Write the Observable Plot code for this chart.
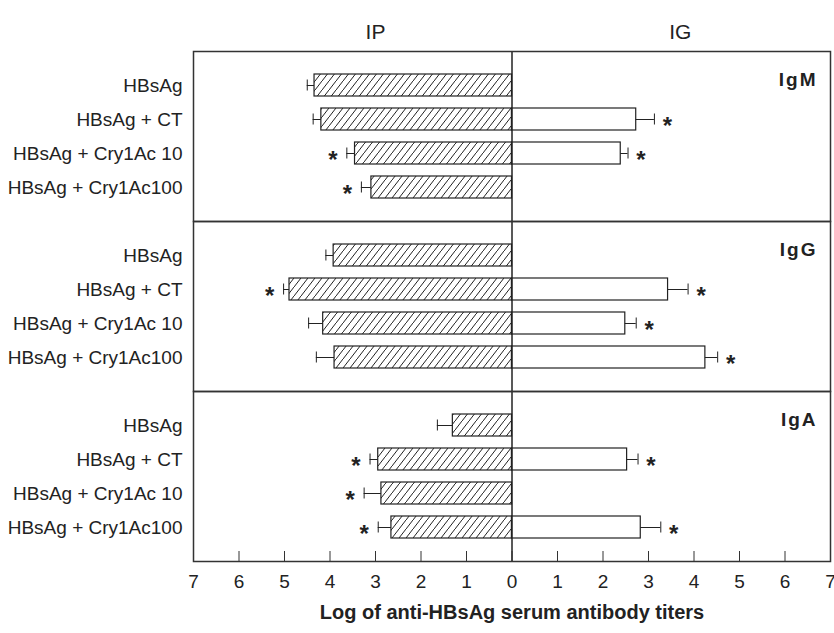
<!DOCTYPE html>
<html><head><meta charset="utf-8">
<script src="https://cdn.jsdelivr.net/npm/d3@7"></script>
<script src="https://cdn.jsdelivr.net/npm/@observablehq/plot@0.6"></script>
<style>body{margin:0;background:#fff}</style>
</head><body><div id="chart"></div>
<script>
const panels = ["IgM", "IgG", "IgA"];
const groups = ["HBsAg", "HBsAg + CT", "HBsAg + Cry1Ac 10", "HBsAg + Cry1Ac100"];
// IP (intraperitoneal) means and SE, per panel
const ipMean = [[4.34, 4.19, 3.45, 3.09], [3.92, 4.89, 4.15, 3.90], [1.30, 2.94, 2.87, 2.65]];
const ipErr  = [[0.16, 0.18, 0.18, 0.22], [0.17, 0.13, 0.32, 0.40], [0.34, 0.18, 0.38, 0.29]];
const ipSig  = [[false, false, true, true], [false, true, false, false], [false, true, true, true]];
// IG (intragastric) means and SE, per panel
const igMean = [[0, 2.73, 2.39, 0], [0, 3.43, 2.49, 4.25], [0, 2.53, 0, 2.83]];
const igErr  = [[0, 0.40, 0.16, 0], [0, 0.44, 0.24, 0.27], [0, 0.24, 0, 0.44]];
const igSig  = [[false, true, true, false], [false, true, true, true], [false, true, false, true]];
const xTicks = [-7, -6, -5, -4, -3, -2, -1, 0, 1, 2, 3, 4, 5, 6, 7];
const sideLabels = ["IP", "IG"];
const xTitle = "Log of anti-HBsAg serum antibody titers";

const sideX = {IP: -3, IG: 3.7};
const rows = panels.flatMap((p, i) => groups.map((g, j) => ({
  panel: p, group: g,
  ip: ipMean[i][j], ipE: ipErr[i][j], ipS: ipSig[i][j],
  ig: igMean[i][j], igE: igErr[i][j], igS: igSig[i][j]
})));
const igRows = rows.filter(d => d.ig > 0);
const ink = "#222";

const chart = Plot.plot({
  width: 834, height: 633,
  marginLeft: 193, marginRight: 4, marginTop: 51, marginBottom: 72,
  style: {fontFamily: "'Liberation Sans', Arial, sans-serif", fontSize: "19px", color: ink, background: "#fff"},
  x: {domain: [-7, 7]},
  y: {domain: groups, paddingInner: 0.353, paddingOuter: 0.676},
  fy: {domain: panels, padding: 0, axis: null},
  marks: [
    Plot.barX(rows, {y: "group", fy: "panel", x1: 0, x2: d => -d.ip, fill: "url(#hatch)", stroke: ink, strokeWidth: 1.2}),
    Plot.barX(igRows, {y: "group", fy: "panel", x1: 0, x2: d => d.ig, fill: "white", stroke: ink, strokeWidth: 1.2}),
    Plot.ruleY(rows, {y: "group", fy: "panel", x1: d => -d.ip, x2: d => -(d.ip + d.ipE), stroke: ink, strokeWidth: 1}),
    Plot.tickX(rows, {y: "group", fy: "panel", x: d => -(d.ip + d.ipE), stroke: ink, strokeWidth: 1, insetTop: 5.5, insetBottom: 5.5}),
    Plot.ruleY(igRows, {y: "group", fy: "panel", x1: d => d.ig, x2: d => d.ig + d.igE, stroke: ink, strokeWidth: 1}),
    Plot.tickX(igRows, {y: "group", fy: "panel", x: d => d.ig + d.igE, stroke: ink, strokeWidth: 1, insetTop: 5.5, insetBottom: 5.5}),
    Plot.text(rows.filter(d => d.ipS), {y: "group", fy: "panel", x: d => -(d.ip + d.ipE), dx: -14, dy: 7, text: () => "*", fontSize: 24, fontWeight: "bold", fill: ink}),
    Plot.text(rows.filter(d => d.igS), {y: "group", fy: "panel", x: d => d.ig + d.igE, dx: 13, dy: 7, text: () => "*", fontSize: 24, fontWeight: "bold", fill: ink}),
    Plot.ruleX([0], {stroke: ink, strokeWidth: 1.5}),
    Plot.frame({stroke: "#333", strokeWidth: 1.5}),
    Plot.tickX(xTicks, {x: d => d, fy: () => "IgA", insetTop: 160, stroke: "#333", strokeWidth: 1}),
    Plot.axisY({tickSize: 0, tickPadding: 11, fill: ink, label: null}),
    Plot.axisX({ticks: xTicks, tickSize: 0, tickPadding: 13, tickFormat: d => Math.abs(d), fill: ink, label: null}),
    Plot.text(panels, {fy: d => d, text: d => d, frameAnchor: "top-right", textAnchor: "end", lineAnchor: "top", dx: -13, dy: 21, fontSize: 19, fontWeight: "bold", fill: ink}),
    Plot.text(sideLabels, {fy: () => "IgM", x: d => sideX[d], text: d => d, frameAnchor: "top", dy: -27, fontSize: 21, fill: ink}),
    Plot.text([xTitle], {fy: () => "IgA", text: d => d, frameAnchor: "bottom", dy: 57, fontSize: 20, fontWeight: "bold", fill: ink})
  ]
});

const svg = chart.tagName.toLowerCase() === "svg" ? chart : chart.querySelector("svg");
d3.select(svg).insert("defs", ":first-child").html(
  `<pattern id="hatch" patternUnits="userSpaceOnUse" width="7" height="9">
     <rect width="7" height="9" fill="white"/>
     <path d="M-1,10.286L8,-1.286" stroke="${ink}" stroke-width="1"/>
   </pattern>`);
d3.select(svg).selectAll("text").filter(function () { return panels.includes(this.textContent); })
  .attr("letter-spacing", "2px");
document.getElementById("chart").append(chart);
</script>
</body></html>
